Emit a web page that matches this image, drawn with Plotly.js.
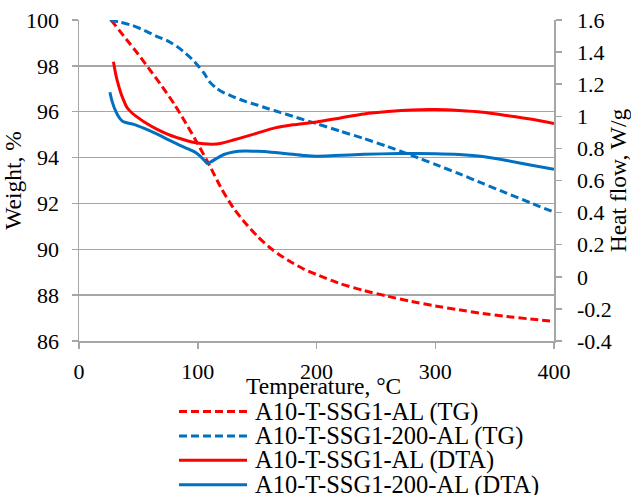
<!DOCTYPE html>
<html><head><meta charset="utf-8">
<script src="https://cdn.plot.ly/plotly-3.0.1.min.js"></script>
<style>html,body{margin:0;padding:0;background:#fff}#chart{width:631px;height:495px}</style>
</head><body><div id="chart"></div>
<script>
// ---- data ----
const seriesNames = ['A10-T-SSG1-AL (TG)', 'A10-T-SSG1-200-AL (TG)', 'A10-T-SSG1-AL (DTA)', 'A10-T-SSG1-200-AL (DTA)'];

const tgRedT = [27, 40, 50, 60, 70, 80, 90, 100, 110, 120, 130, 140, 150, 160, 170, 180, 190, 200, 220, 240, 260, 280, 300, 320, 340, 360, 380, 400];
const tgRedW = [100, 99.15, 98.5, 97.8, 97.1, 96.35, 95.5, 94.6, 93.65, 92.64, 91.8, 91.15, 90.58, 90.1, 89.72, 89.4, 89.12, 88.9, 88.5, 88.2, 87.95, 87.72, 87.53, 87.36, 87.2, 87.07, 86.96, 86.86];

const tgBlueT = [26, 35, 45, 55, 65, 75, 85, 95, 100, 105, 110, 115, 120, 130, 140, 150, 160, 170, 180, 200, 220, 240, 260, 280, 300, 320, 340, 360, 380, 400];
const tgBlueW = [100, 99.9, 99.76, 99.55, 99.3, 99.08, 98.75, 98.3, 98.02, 97.7, 97.3, 97.05, 96.88, 96.65, 96.45, 96.29, 96.12, 95.96, 95.8, 95.48, 95.15, 94.83, 94.48, 94.1, 93.7, 93.3, 92.87, 92.45, 92.03, 91.62];

const dtaRedT = [29, 31, 33, 35, 37, 40, 44, 50, 55, 65, 75, 85, 95, 105, 112, 120, 130, 140, 150, 165, 180, 200, 220, 240, 260, 280, 300, 320, 340, 360, 380, 400];
const dtaRedV = [1.34, 1.26, 1.20, 1.15, 1.11, 1.06, 1.025, 0.99, 0.965, 0.922, 0.888, 0.862, 0.840, 0.829, 0.826, 0.832, 0.852, 0.873, 0.895, 0.928, 0.947, 0.965, 0.99, 1.015, 1.03, 1.04, 1.042, 1.036, 1.025, 1.005, 0.983, 0.955];

const dtaBlueT = [26, 28, 31, 34, 37, 41, 46, 55, 65, 75, 85, 92, 97, 102, 106, 108, 111, 116, 122, 130, 140, 150, 160, 175, 190, 200, 215, 240, 270, 300, 320, 340, 360, 380, 400];
const dtaBlueV = [1.15, 1.09, 1.03, 0.99, 0.968, 0.958, 0.950, 0.925, 0.892, 0.855, 0.819, 0.797, 0.780, 0.752, 0.722, 0.706, 0.716, 0.738, 0.762, 0.778, 0.784, 0.782, 0.778, 0.767, 0.755, 0.751, 0.755, 0.763, 0.768, 0.767, 0.762, 0.750, 0.725, 0.697, 0.67];

const xTickVals = [0, 100, 200, 300, 400];
const yTickVals = [86, 88, 90, 92, 94, 96, 98, 100];
const y2TickVals = [-0.4, -0.2, 0, 0.2, 0.4, 0.6, 0.8, 1, 1.2, 1.4, 1.6];
const y2TickText = ['-0.4', '-0.2', '0', '0.2', '0.4', '0.6', '0.8', '1', '1.2', '1.4', '1.6'];

// ---- styles ----
const RED = '#FF0000', BLUE = '#0070C0', GRID = '#A6A6A6';
const styles = [
  {color: RED, dash: '8px,4px'},
  {color: BLUE, dash: '8px,4px'},
  {color: RED, dash: 'solid'},
  {color: BLUE, dash: 'solid'}
];
const xs = [tgRedT, tgBlueT, dtaRedT, dtaBlueT];
const ys = [tgRedW, tgBlueW, dtaRedV, dtaBlueV];
const axes = ['y', 'y', 'y2', 'y2'];

const traces = seriesNames.map((n, i) => ({
  type: 'scatter', mode: 'lines', name: n, x: xs[i], y: ys[i], yaxis: axes[i],
  line: {color: styles[i].color, width: 3, dash: styles[i].dash, shape: 'spline', smoothing: 0.6},
  hoverinfo: 'skip'
}));

const FONT = 'Liberation Serif, Times New Roman, serif';
const W = 631, H = 495, ML = 79, MR = 77, MT = 20, MB = 154;
const PW = W - ML - MR, PH = H - MT - MB;
const px2x = p => (p - ML) / PW;
const py2y = p => (H - MB - p) / PH;

// legend drawn below the plot (long line samples as in the reference)
const legRow0 = 411.5, legStep = 24.4;
const shapes = [], annotations = [];
seriesNames.forEach((n, i) => {
  const yy = py2y(legRow0 + i * legStep);
  shapes.push({type: 'line', xref: 'paper', yref: 'paper', x0: px2x(179), x1: px2x(247), y0: yy, y1: yy,
    line: {color: styles[i].color, width: 3, dash: styles[i].dash}});
  annotations.push({xref: 'paper', yref: 'paper', x: px2x(253), y: yy, xanchor: 'left', yanchor: 'middle',
    text: n, showarrow: false, font: {family: FONT, size: 24.5, color: '#000'}});
});
// x-axis title
annotations.push({xref: 'paper', yref: 'paper', x: px2x(323), y: py2y(386), xanchor: 'center', yanchor: 'middle',
  text: 'Temperature, °C', showarrow: false, font: {family: FONT, size: 23.5, color: '#000'}});

const axisCommon = {
  showline: true, linecolor: GRID, linewidth: 1.5, ticks: 'outside', ticklen: 6, tickcolor: GRID, tickwidth: 1.5,
  zeroline: false, tickfont: {family: FONT, size: 22, color: '#000'}, fixedrange: true
};

const layout = {
  width: W, height: H,
  margin: {l: ML, r: MR, t: MT, b: MB, pad: 0},
  paper_bgcolor: '#fff', plot_bgcolor: '#fff',
  font: {family: FONT, size: 22, color: '#000'},
  showlegend: false,
  xaxis: Object.assign({}, axisCommon, {
    range: [0, 400], tickmode: 'array', tickvals: xTickVals, showgrid: false, ticklabelstandoff: 4
  }),
  yaxis: Object.assign({}, axisCommon, {
    range: [86, 100], tickmode: 'array', tickvals: yTickVals, showgrid: true, gridcolor: GRID, gridwidth: 1.5,
    ticklabelstandoff: 8,
    title: {text: 'Weight, %', font: {family: FONT, size: 23.5, color: '#000'}, standoff: 2}
  }),
  yaxis2: Object.assign({}, axisCommon, {
    overlaying: 'y', side: 'right', range: [-0.4, 1.6], tickmode: 'array', tickvals: y2TickVals, ticktext: y2TickText,
    showgrid: false, ticklabelstandoff: 11,
    title: {text: 'Heat flow, W/g', font: {family: FONT, size: 23.5, color: '#000'}, standoff: 0}
  }),
  shapes: shapes, annotations: annotations
};

Plotly.newPlot('chart', traces, layout, {staticPlot: true, displayModeBar: false});
</script></body></html>
